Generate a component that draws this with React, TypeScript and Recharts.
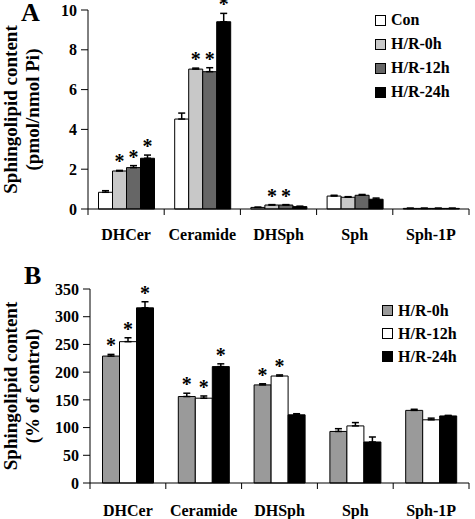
import {
  BarChart,
  Bar,
  XAxis,
  YAxis,
  ErrorBar,
  LabelList,
  Legend,
} from "recharts";

const categories = ["DHCer", "Ceramide", "DHSph", "Sph", "Sph-1P"];

// panel A (pmol/nmol Pi)
const aCon = [0.84, 4.52, 0.08, 0.65, 0.03];
const aH0 = [1.91, 7.03, 0.2, 0.59, 0.03];
const aH12 = [2.08, 6.9, 0.2, 0.69, 0.03];
const aH24 = [2.55, 9.41, 0.12, 0.49, 0.03];
const aConErr = [0.08, 0.3, 0.01, 0.04, 0.01];
const aH0Err = [0.03, 0.05, 0.02, 0.03, 0.01];
const aH12Err = [0.1, 0.2, 0.02, 0.04, 0.01];
const aH24Err = [0.16, 0.42, 0.02, 0.06, 0.01];
const aH0Star = [1, 1, 1, 0, 0];
const aH12Star = [1, 1, 1, 0, 0];
const aH24Star = [1, 1, 0, 0, 0];
const aTicks = [0, 2, 4, 6, 8, 10];

// panel B (% of control)
const bH0 = [229, 156, 177, 93, 131];
const bH12 = [255, 153, 193, 103, 114];
const bH24 = [316, 210, 123, 74, 121];
const bH0Err = [3, 6, 2, 5, 2];
const bH12Err = [7, 4, 2, 6, 3];
const bH24Err = [11, 5, 2, 9, 1];
const bH0Star = [1, 1, 1, 0, 0];
const bH12Star = [1, 1, 1, 0, 0];
const bH24Star = [1, 1, 0, 0, 0];
const bTicks = [0, 50, 100, 150, 200, 250, 300, 350];

const FONT = '"Liberation Serif", "Times New Roman", serif';

const seriesA = [
  { key: "con", name: "Con", color: "#ffffff", values: aCon, err: aConErr, star: null },
  { key: "h0", name: "H/R-0h", color: "#c8c8c8", values: aH0, err: aH0Err, star: aH0Star },
  { key: "h12", name: "H/R-12h", color: "#666666", values: aH12, err: aH12Err, star: aH12Star },
  { key: "h24", name: "H/R-24h", color: "#000000", values: aH24, err: aH24Err, star: aH24Star },
];

const seriesB = [
  { key: "h0", name: "H/R-0h", color: "#9a9a9a", values: bH0, err: bH0Err, star: bH0Star },
  { key: "h12", name: "H/R-12h", color: "#ffffff", values: bH12, err: bH12Err, star: bH12Star },
  { key: "h24", name: "H/R-24h", color: "#000000", values: bH24, err: bH24Err, star: bH24Star },
];

const buildRows = (series: any[]) =>
  categories.map((c, i) => {
    const row: any = { name: c };
    series.forEach((s) => {
      row[s.key] = s.values[i];
      row[s.key + "Err"] = [0, s.err[i]];
      row[s.key + "Star"] = s.star && s.star[i] ? "*" : "";
    });
    return row;
  });

const makeCatTick = (band: number, dy: number, count: number) => (props: any) => {
  const { x, y, payload, index } = props;
  return (
    <g>
      <line x1={x - band / 2} x2={x - band / 2} y1={y} y2={y + 6} stroke="#000" />
      {index === count - 1 && (
        <line x1={x + band / 2} x2={x + band / 2} y1={y} y2={y + 6} stroke="#000" />
      )}
      <text
        x={x}
        y={y + dy}
        textAnchor="middle"
        fontFamily={FONT}
        fontWeight="bold"
        fontSize={16}
        fill="#000"
      >
        {payload.value}
      </text>
    </g>
  );
};

const makeStar = (errs: number[], pxPerUnit: number) => (props: any) => {
  const { x, y, width, value, index } = props;
  if (value !== "*") return null;
  const top = y - errs[index] * pxPerUnit;
  return (
    <text
      x={x + width / 2}
      y={top - 2}
      textAnchor="middle"
      fontFamily={FONT}
      fontWeight="bold"
      fontSize={20}
      fill="#000"
    >
      *
    </text>
  );
};

const makeYLabel = (letter: string, line2: string, letterX: number, letterY: number) => (props: any) => {
  const vb = props.viewBox || {};
  const cy = vb.y + vb.height / 2;
  return (
    <g fontFamily={FONT} fontWeight="bold" fill="#000">
      <text x={letterX} y={letterY} fontSize={26}>
        {letter}
      </text>
      <text x={17} y={cy} fontSize={19} textAnchor="middle" transform={`rotate(-90 17 ${cy})`}>
        Sphingolipid content
      </text>
      <text x={39} y={cy} fontSize={19} textAnchor="middle" transform={`rotate(-90 39 ${cy})`}>
        {line2}
      </text>
    </g>
  );
};

const makeLegend = (series: any[], rowH: number) => () => (
  <div style={{ fontFamily: FONT, fontWeight: "bold", fontSize: 16, color: "#000" }}>
    {series.map((s) => (
      <div key={s.key} style={{ display: "flex", alignItems: "center", height: rowH }}>
        <span
          style={{
            display: "inline-block",
            width: 9,
            height: 9,
            border: "1px solid #000",
            background: s.color,
            marginRight: 5,
          }}
        />
        <span>{s.name}</span>
      </div>
    ))}
  </div>
);

const Panel = ({ series, ticks, max, height, margin, xHeight, dy, letter, line2, letterPos, legendPos, rowH, gap }: any) => {
  const data = buildRows(series);
  const plotW = 475 - margin.left - 60 - margin.right;
  const plotH = height - margin.top - margin.bottom - xHeight;
  const band = plotW / categories.length;
  const pxPerUnit = plotH / max;
  return (
    <BarChart
      width={475}
      height={height}
      data={data}
      margin={margin}
      barGap={0}
      barCategoryGap={gap}
      style={{ fontFamily: FONT }}
    >
      <XAxis
        dataKey="name"
        height={xHeight}
        tickLine={false}
        tickSize={0}
        tickMargin={0}
        axisLine={{ stroke: "#000" }}
        interval={0}
        tick={makeCatTick(band, dy, categories.length)}
      />
      <YAxis
        width={60}
        domain={[0, max]}
        ticks={ticks}
        interval={0}
        tickSize={7}
        tickMargin={4}
        axisLine={{ stroke: "#000" }}
        tickLine={{ stroke: "#000" }}
        tick={{ fill: "#000", fontFamily: FONT, fontWeight: "bold", fontSize: 16 }}
        label={{ content: makeYLabel(letter, line2, letterPos[0], letterPos[1]) }}
      />
      <Legend
        layout="vertical"
        align="center"
        verticalAlign="middle"
        wrapperStyle={{ left: legendPos[0], top: legendPos[1], width: 100 }}
        content={makeLegend(series, rowH)}
      />
      {series.map((s: any) => (
        <Bar
          key={s.key}
          dataKey={s.key}
          name={s.name}
          fill={s.color}
          stroke="#000"
          strokeWidth={1}
          isAnimationActive={false}
        >
          <ErrorBar dataKey={s.key + "Err"} direction="y" width={3.5} stroke="#000" strokeWidth={1.5} />
          <LabelList dataKey={s.key + "Star"} content={makeStar(s.err, pxPerUnit)} />
        </Bar>
      ))}
    </BarChart>
  );
};

export default function App() {
  return (
    <div style={{ position: "absolute", left: 0, top: 0, width: 475, height: 519, background: "#fff", fontFamily: FONT }}>
      <div style={{ position: "absolute", left: 0, top: 0 }}>
        <Panel
          series={seriesA}
          ticks={aTicks}
          max={10}
          height={250}
          margin={{ top: 10, right: 6, bottom: 0, left: 28 }}
          xHeight={41}
          dy={31}
          letter="A"
          line2="(pmol/nmol Pi)"
          letterPos={[21, 21]}
          legendPos={[375, 8]}
          rowH={24}
          gap={10.5}
        />
      </div>
      <div style={{ position: "absolute", left: 0, top: 250 }}>
        <Panel
          series={seriesB}
          ticks={bTicks}
          max={350}
          height={269}
          margin={{ top: 39, right: 6, bottom: 0, left: 30 }}
          xHeight={36}
          dy={33}
          letter="B"
          line2="(% of control)"
          letterPos={[24, 34]}
          legendPos={[382, 49]}
          rowH={23}
          gap={12.5}
        />
      </div>
    </div>
  );
}
